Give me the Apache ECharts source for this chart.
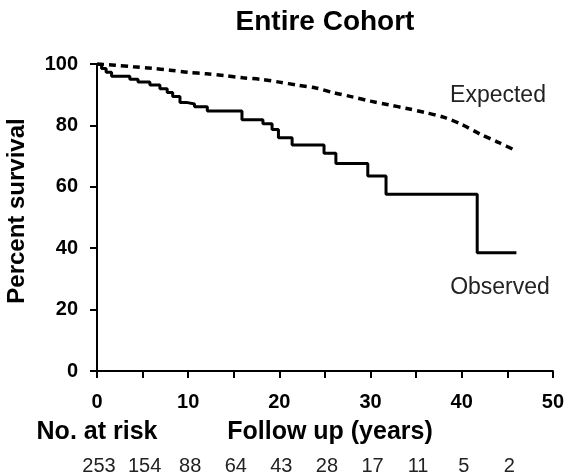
<!DOCTYPE html>
<html><head><meta charset="utf-8">
<script src="https://cdn.jsdelivr.net/npm/echarts@6/dist/echarts.min.js"></script>
<style>html,body{margin:0;padding:0;background:#fff}#c{width:567px;height:476px}</style>
</head><body><div id="c"></div>
<script>
// Observed Kaplan-Meier: [year, percent] at each step
var observedYears = [0, 0.5, 1.0, 1.6, 3.6, 4.5, 5.8, 6.9, 7.7, 8.3, 9.1, 9.8, 10.7, 12.1, 15.9, 18.2, 19.2, 19.9, 21.4, 24.9, 26.2, 29.7, 31.7, 41.7, 46.0];
var observedPct   = [100, 98.5, 97.3, 96.0, 95.0, 94.1, 93.2, 91.9, 90.7, 89.4, 87.5, 87.0, 86.1, 84.7, 81.8, 80.5, 78.7, 76.0, 73.6, 70.9, 67.6, 63.5, 57.6, 38.5, 38.5];
// Expected survival
var expectedYears = [0, 2, 4, 6, 8, 10, 12, 14, 16, 18, 20, 22, 24, 26, 28, 30, 32, 34, 36, 38, 40, 42, 44, 46];
var expectedPct   = [100, 99.6, 99.1, 98.6, 98.0, 97.3, 96.8, 96.2, 95.5, 95.0, 94.1, 93.1, 92.2, 90.6, 89.3, 87.9, 86.7, 85.5, 84.2, 82.7, 80.3, 77.2, 74.5, 71.7];
// Numbers at risk at years 0, 5, 10, ... 45
var riskYears = [0, 5, 10, 15, 20, 25, 30, 35, 40, 45];
var numberAtRisk = ['253', '154', '88', '64', '43', '28', '17', '11', '5', '2'];
var xTicks = [0, 10, 20, 30, 40, 50];
var yTicks = [0, 20, 40, 60, 80, 100];

var FONT = '"Liberation Sans", Arial, sans-serif';
var chart = echarts.init(document.getElementById('c'), null, {renderer: 'canvas'});

var obsData = observedYears.map(function (x, i) { return [x, observedPct[i]]; });
var expData = expectedYears.map(function (x, i) { return [x, expectedPct[i]]; });

var option = {
  animation: false,
  backgroundColor: '#fff',
  grid: {left: 97, right: 11, top: 64, bottom: 105, containLabel: false},
  xAxis: {
    type: 'value', min: 0, max: 50, interval: 5,
    axisLine: {lineStyle: {color: '#000', width: 2}},
    axisTick: {length: 7, lineStyle: {color: '#000', width: 2}},
    splitLine: {show: false},
    axisLabel: {
      margin: 21, color: '#000', fontFamily: FONT, fontWeight: 'bold', fontSize: 20,
      formatter: function (v) { return xTicks.indexOf(v) >= 0 ? String(v) : ''; }
    }
  },
  yAxis: {
    type: 'value', min: 0, max: 100, interval: 20,
    axisLine: {show: true, lineStyle: {color: '#000', width: 2}},
    axisTick: {show: true, length: 7, lineStyle: {color: '#000', width: 2}},
    splitLine: {show: false},
    axisLabel: {
      margin: 19, color: '#000', fontFamily: FONT, fontWeight: 'bold', fontSize: 20,
      formatter: function (v) { return yTicks.indexOf(v) >= 0 ? String(v) : ''; }
    }
  },
  series: [
    {
      type: 'line', data: expData, showSymbol: false, smooth: 0.3,
      lineStyle: {color: '#000', width: 3.5, type: [7, 5]}
    },
    {
      type: 'line', data: obsData, showSymbol: false, step: 'end',
      lineStyle: {color: '#000', width: 3}
    }
  ],
  graphic: [
    {type: 'text', x: 325, y: 22, style: {text: 'Entire Cohort', font: 'bold 28px ' + FONT, fill: '#000', align: 'center', verticalAlign: 'middle'}},
    {type: 'text', x: 17, y: 211, rotation: Math.PI / 2, style: {text: 'Percent survival', font: 'bold 24px ' + FONT, fill: '#000', align: 'center', verticalAlign: 'middle'}},
    {type: 'text', x: 498, y: 96, style: {text: 'Expected', font: '23px ' + FONT, fill: '#222', align: 'center', verticalAlign: 'middle'}},
    {type: 'text', x: 500, y: 288, style: {text: 'Observed', font: '23px ' + FONT, fill: '#222', align: 'center', verticalAlign: 'middle'}},
    {type: 'text', x: 97, y: 432, style: {text: 'No. at risk', font: 'bold 25px ' + FONT, fill: '#000', align: 'center', verticalAlign: 'middle'}},
    {type: 'text', x: 330, y: 432, style: {text: 'Follow up (years)', font: 'bold 25px ' + FONT, fill: '#000', align: 'center', verticalAlign: 'middle'}}
  ]
};
chart.setOption(option);

// place numbers at risk under their years using the axis scale
var riskGraphics = numberAtRisk.map(function (t, i) {
  var px = chart.convertToPixel({xAxisIndex: 0}, riskYears[i]);
  return {
    type: 'text', x: px + 2, y: 466,
    style: {text: t, font: '20px ' + FONT, fill: '#222', align: 'center', verticalAlign: 'middle'}
  };
});
chart.setOption({graphic: option.graphic.concat(riskGraphics)});
</script>
</body></html>
